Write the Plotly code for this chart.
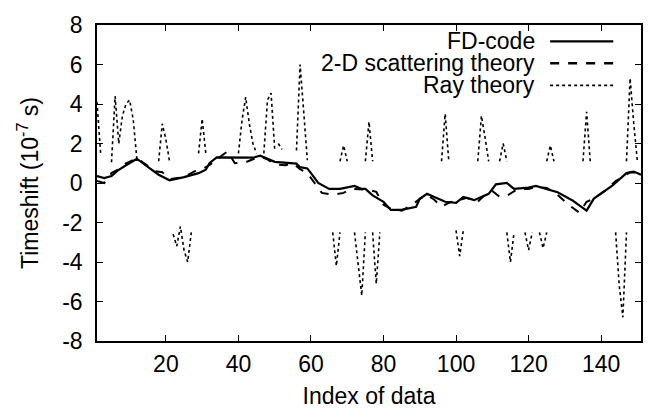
import plotly.graph_objects as go

# ---------------- data ----------------
fd_x = [1, 3, 5, 7, 9, 12, 15, 18, 21, 25, 29, 31, 32, 34, 44, 46, 50, 56, 57, 59, 60, 62,
        65, 68, 72, 74, 75, 77, 80, 82, 85, 89, 90, 92, 94, 97, 100, 102, 105, 109, 111,
        114, 116, 120, 122, 125, 128, 132, 135, 136, 138, 143, 147, 149, 151]
fd_y = [0.35, 0.25, 0.35, 0.67, 0.9, 1.23, 0.82, 0.42, 0.14, 0.3, 0.5, 0.67, 1.0, 1.3, 1.28,
        1.38, 1.07, 0.98, 0.8, 0.74, 0.5, 0.0, -0.3, -0.3, -0.15, -0.3, -0.3, -0.63, -0.95,
        -1.36, -1.36, -1.2, -0.8, -0.55, -0.71, -0.95, -1.0, -0.71, -0.87, -0.55, -0.07,
        0.0, -0.3, -0.23, -0.15, -0.3, -0.47, -0.87, -1.28, -1.4, -0.79, -0.15, 0.5, 0.58, 0.42]

sc_x = [1, 3, 5, 7, 9, 12, 14, 17, 19, 21, 25, 28, 30, 32, 34, 37, 39, 42, 44, 46, 48, 50,
        53, 55, 57, 59, 61, 63, 66, 69, 71, 74, 76, 78, 80, 82, 85, 88, 90, 92, 94, 96, 98,
        100, 103, 106, 108, 110, 112, 114, 117, 120, 122, 125, 128, 131, 134, 136, 138,
        141, 144, 146, 148, 151]
sc_y = [0.1, 0.0, 0.5, 0.7, 1.0, 1.25, 1.0, 0.6, 0.55, 0.2, 0.3, 0.6, 0.7, 0.9, 1.2, 1.6,
        1.0, 1.05, 1.2, 1.35, 1.2, 0.95, 0.9, 1.0, 0.7, 0.5, 0.0, -0.5, -0.6, -0.5, -0.3,
        -0.35, -0.35, -0.45, -1.1, -1.3, -1.4, -1.1, -0.8, -0.6, -0.85, -1.2, -1.0, -0.9,
        -0.75, -0.95, -0.6, -0.4, -0.7, -0.65, -0.3, -0.3, -0.2, -0.25, -0.6, -1.1, -1.5,
        -0.95, -0.8, -0.4, 0.1, 0.3, 0.55, 0.5]

# Ray theory: visible segments separated by None
ray_x = [1, 2, None,
         5, 6, 7, 8, 9, 10, 11, 12, None,
         18, 19, 20, 21, None,
         22, 23, 24, 25, 26, 27, None,
         29, 30, 31, None,
         40, 41, 42, 43, 44, 45, None,
         47, 48, 49, 50, None,
         51, 52, None,
         56, 57, 58, 59, None,
         66, 67, 68, None,
         68, 69, 70, None,
         72, 73, 74, 75, None,
         75, 76, 77, None,
         77, 78, 79, None,
         96, 97, 98, None,
         100, 101, 102, None,
         106, 107, 108, 109, None,
         112, 113, 114, None,
         114, 115, 116, None,
         119, 120, 121, None,
         123, 124, 125, None,
         125, 126, 127, None,
         135, 136, 137, None,
         144, 145, 146, 147, None,
         147, 148, 149, 150]
ray_y = [4.1, 1.5, None,
         1.05, 4.4, 2.0, 3.4, 4.0, 4.2, 3.2, 1.2, None,
         1.1, 3.0, 2.2, 1.1, None,
         -2.6, -3.2, -2.2, -3.4, -4.0, -2.5, None,
         1.5, 3.25, 1.5, None,
         1.5, 3.2, 4.35, 3.0, 2.0, 1.5, None,
         1.5, 4.2, 4.55, 1.7, None,
         2.0, 1.7, None,
         1.65, 6.0, 3.6, 1.15, None,
         -2.5, -4.2, -2.5, None,
         1.1, 1.9, 1.1, None,
         -2.5, -4.0, -5.7, -2.5, None,
         1.1, 3.1, 1.1, None,
         -2.5, -5.1, -2.5, None,
         1.1, 3.5, 1.1, None,
         -2.4, -3.7, -2.4, None,
         1.1, 3.4, 2.3, 1.1, None,
         1.1, 2.0, 1.1, None,
         -2.5, -4.0, -2.5, None,
         -2.5, -3.4, -2.5, None,
         -2.5, -3.3, -2.5, None,
         1.1, 1.9, 1.1, None,
         1.1, 3.6, 1.1, None,
         -2.5, -5.2, -6.8, -2.5, None,
         1.1, 5.3, 3.0, 1.1]

y_ticks = [-8, -6, -4, -2, 0, 2, 4, 6, 8]
x_ticks = [20, 40, 60, 80, 100, 120, 140]
legend_names = ["FD-code", "2-D scattering theory", "Ray theory"]

FONT = "Liberation Sans, Arial, Helvetica, sans-serif"
FS = 23

fig = go.Figure()
fig.add_trace(go.Scatter(x=ray_x, y=ray_y, mode="lines", name=legend_names[2],
                         line=dict(color="black", width=1.6, dash="dot"), connectgaps=False))
fig.add_trace(go.Scatter(x=sc_x, y=sc_y, mode="lines", name=legend_names[1],
                         line=dict(color="black", width=2, dash="dash")))
fig.add_trace(go.Scatter(x=fd_x, y=fd_y, mode="lines", name=legend_names[0],
                         line=dict(color="black", width=2.2)))

# custom legend (text left of line sample, gnuplot style)
leg_y = [0.948, 0.879, 0.809]
leg_dash = ["solid", "dash", "dot"]
leg_w = [2.2, 2.4, 1.6]
for name, yy, d, w in zip(legend_names, leg_y, leg_dash, leg_w):
    fig.add_annotation(x=0.807, y=yy, xref="paper", yref="paper", text=name,
                       showarrow=False, xanchor="right", yanchor="middle",
                       borderpad=0,
                       font=dict(size=FS, color="black", family=FONT))
    fig.add_shape(type="line", xref="paper", yref="paper", x0=0.833, x1=0.949,
                  y0=yy, y1=yy, line=dict(color="black", width=w, dash=d))

axis_common = dict(showline=True, linecolor="black", linewidth=1.5, mirror="ticks",
                   ticks="inside", ticklen=6, tickwidth=1.2, tickcolor="black",
                   showgrid=False, zeroline=False,
                   tickfont=dict(size=FS, color="black", family=FONT))

fig.update_xaxes(range=[1, 151], tickvals=x_ticks, ticktext=[str(v) for v in x_ticks],
                 ticklabelstandoff=2,
                 title=dict(text="Index of data", font=dict(size=FS, color="black", family=FONT),
                            standoff=12),
                 **axis_common)
fig.update_yaxes(range=[-8, 8], tickvals=y_ticks, ticktext=[str(v) for v in y_ticks],
                 ticklabelstandoff=8,
                 title=dict(text="Timeshift (10<sup>-7</sup> s)",
                            font=dict(size=FS, color="black", family=FONT), standoff=17),
                 **axis_common)

fig.update_layout(width=659, height=417, margin=dict(l=97, r=18, t=12, b=75),
                  plot_bgcolor="white", paper_bgcolor="white", showlegend=False,
                  font=dict(family=FONT, color="black"))

fig.write_html("out.html")
